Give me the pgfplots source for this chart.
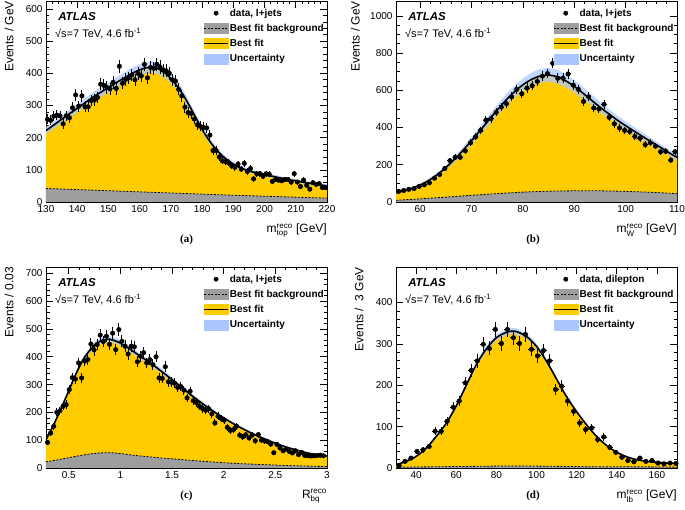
\documentclass[border=0pt]{standalone}
\usepackage{pgfplots}
\pgfplotsset{compat=1.18}
\usepackage{pgfplotstable}
\usepackage{amsmath}
\usepackage{fontspec}
\setmainfont{Liberation Sans}
\newfontfamily\serifb{Liberation Serif}

\definecolor{sigyellow}{RGB}{255,204,0}
\definecolor{bkggray}{RGB}{158,158,158}
\definecolor{bandblue}{RGB}{170,200,255}

% ---------------- panel (a) ----------------
\pgfplotstableread{
x y
130.5 257
131.5 254
132.5 267
133.5 270
134.5 268
135.5 243
136.5 268
137.5 262
138.5 293
139.5 333
140.5 298
141.5 330
142.5 296
143.5 296
144.5 315
145.5 317
146.5 325
147.5 366
148.5 363
149.5 356
150.5 352
151.5 372
152.5 353
153.5 422
154.5 369
155.5 381
156.5 386
157.5 395
158.5 380
159.5 400
160.5 392
161.5 428
162.5 386
163.5 418
164.5 416
165.5 428
166.5 420
167.5 410
168.5 408
169.5 400
170.5 380
171.5 376
172.5 350
173.5 330
174.5 295
175.5 278
176.5 275
177.5 258
178.5 240
179.5 235
180.5 232
181.5 230
182.5 208
183.5 160
184.5 160
185.5 140
186.5 128
187.5 125
188.5 122
189.5 112
190.5 108
191.5 118
192.5 102
193.5 120
194.5 95
195.5 104
196.5 72
197.5 88
198.5 88
199.5 80
200.5 88
201.5 86
202.5 64
203.5 70
204.5 68
205.5 66
206.5 70
207.5 70
208.5 62
209.5 88
210.5 62
211.5 48
212.5 68
213.5 52
214.5 40
215.5 60
216.5 55
217.5 57
218.5 45
219.5 45
}\da
\pgfplotstableread{
x f e
130 222 11
132 236 11
134 250 12
136 264 12
138 278 13
140 291 13
142 305 14
144 319 14
146 332 15
148 344 15
150 356 15
152 368 16
154 380 16
156 391 17
158 402 17
160 411 17
162 417 18
164 419 18
166 414 17
168 402 17
170 384 16
172 360 16
174 332 15
176 298 13
178 262 12
180 226 11
182 195 10
184 169 9
186 148 8
188 131 8
190 118 7
192 108 7
194 100 6
196 94 6
198 89 6
200 85 6
202 81 6
204 77 6
206 73 5
208 69 5
210 66 5
212 62 5
214 59 5
216 56 5
218 53 5
220 50 5
}\fa
\pgfplotstableread{
x b
130 42
140 38.5
150 35
160 31.5
170 28
180 24.5
190 21
200 18
210 15
220 12
}\ba

% ---------------- panel (b) ----------------
\pgfplotstableread{
x y
55.8 57
56.8 62
57.8 68
58.8 72
59.8 84
60.8 92
61.8 103
62.8 128
63.8 148
64.8 180
65.8 222
66.8 240
67.8 240
68.8 275
69.8 318
70.8 350
71.8 385
72.8 440
73.8 448
74.8 482
75.8 510
76.8 528
77.8 565
78.8 605
79.8 582
80.8 612
81.8 625
82.8 648
83.8 676
84.8 690
85.8 745
86.8 665
87.8 665
88.8 688
89.8 628
90.8 605
91.8 540
92.8 565
93.8 505
94.8 500
95.8 525
96.8 455
97.8 420
98.8 398
99.8 385
100.8 378
101.8 352
102.8 342
103.8 308
104.8 318
105.8 300
106.8 270
107.8 272
108.8 225
109.6 270
}\db
\pgfplotstableread{
x f e
55.3 50 6
57 62 6
59 80 7
61 105 8
63 140 10
65 185 12
67 238 15
69 298 18
71 362 21
73 428 24
75 494 28
77 556 31
79 608 33
81 648 35
83 674 37
85 682 37
87 670 37
89 640 35
91 600 33
93 555 31
95 510 29
97 468 26
99 428 24
101 392 23
103 357 21
105 323 19
107 290 17
109 255 16
110 240 15
}\fb
\pgfplotstableread{
x b
55.3 9
60 17
65 26
70 36
75 45
80 53
85 58
90 60
95 60
100 57
105 52
110 45
}\bb

% ---------------- panel (c) ----------------
\pgfplotstableread{
x y
0.295 92
0.325 126
0.355 150
0.385 200
0.415 206
0.445 222
0.475 228
0.505 282
0.535 325
0.565 320
0.595 378
0.625 324
0.655 385
0.685 390
0.715 446
0.745 425
0.775 444
0.805 478
0.835 455
0.865 474
0.895 445
0.925 485
0.955 426
0.985 498
1.015 456
1.045 438
1.075 410
1.105 438
1.135 436
1.165 382
1.195 402
1.225 415
1.255 378
1.285 390
1.315 372
1.345 400
1.375 324
1.405 322
1.435 364
1.465 310
1.495 308
1.525 305
1.555 290
1.585 293
1.615 280
1.645 252
1.675 276
1.705 242
1.735 236
1.765 222
1.795 214
1.825 208
1.855 213
1.885 195
1.915 162
1.945 186
1.975 178
2.005 172
2.035 146
2.065 135
2.095 138
2.125 150
2.155 118
2.185 112
2.215 120
2.245 108
2.275 118
2.305 98
2.335 120
2.365 100
2.395 98
2.425 95
2.455 86
2.485 55
2.515 85
2.545 72
2.575 62
2.605 68
2.635 60
2.665 54
2.695 62
2.725 48
2.755 56
2.785 45
2.815 44
2.845 43
2.875 44
2.905 45
2.935 46
2.965 44
}\dc
\pgfplotstableread{
x f e
0.28 102 4
0.32 130 5
0.36 160 5
0.40 193 6
0.44 226 7
0.48 260 7
0.52 295 8
0.56 330 9
0.60 362 9
0.64 390 10
0.68 412 10
0.72 430 11
0.76 445 11
0.80 455 11
0.84 461 11
0.88 463 11
0.92 461 11
0.96 456 11
1.00 449 11
1.05 438 11
1.10 426 11
1.15 413 10
1.20 400 10
1.30 375 10
1.40 347 9
1.50 318 8
1.60 288 8
1.70 258 7
1.80 230 7
1.90 204 6
2.00 180 6
2.10 158 5
2.20 138 5
2.30 120 5
2.40 104 4
2.50 89 4
2.60 76 4
2.70 65 3
2.80 55 3
2.90 48 3
3.00 43 3
}\fc
\pgfplotstableread{
x b
0.28 22
0.4 30
0.5 37
0.6 44
0.7 50
0.8 54
0.9 55
1.0 52
1.1 47
1.2 43
1.4 36
1.6 30
1.8 24
2.0 19
2.2 15
2.4 12
2.6 9
2.8 7
3.0 5
}\bc

% ---------------- panel (d) ----------------
\pgfplotstableread{
x y
31.5 6
34.5 16
37.5 24
40.5 40
43.5 44
46.5 52
49.5 89
52.5 89
55.5 113
58.5 147
61.5 162
64.5 206
67.5 236
70.5 259
73.5 299
76.5 289
79.5 335
82.5 301
85.5 335
88.5 315
91.5 301
94.5 323
97.5 287
100.5 271
103.5 284
106.5 259
109.5 190
112.5 198
115.5 162
118.5 137
121.5 109
124.5 93
127.5 97
130.5 69
133.5 75
136.5 50
139.5 38
142.5 26
145.5 18
148.5 15
151.5 24
154.5 16
157.5 18
160.5 12
163.5 10
166.5 12
169.5 11
}\dd
\pgfplotstableread{
x f e
30 8 1
35 16 1
40 28 2
45 48 2
50 76 3
55 108 3
60 150 4
65 200 5
70 250 6
75 288 7
80 315 7
85 328 8
88 331 8
90 330 8
95 318 7
100 294 7
105 258 6
110 215 5
115 172 4
120 136 4
125 104 3
130 76 3
135 54 2
140 38 2
145 27 2
150 20 1
155 16 1
160 14 1
165 12 1
170 11 1
}\fd
\pgfplotstableread{
x b
30 2
50 3
70 4
90 5
110 4
130 3
150 3
170 2
}\bd

\pgfplotsset{
  atlas/.style={
    scale only axis,
    axis line style={line width=0.7pt},
    tick style={line width=0.6pt, black},
    major tick length=7pt, minor tick length=3.5pt,
    tick align=inside,
    /pgf/number format/assume math mode=true,
    /pgf/number format/1000 sep={},
    scaled ticks=false,
    tick label style={font=\fontsize{10}{12}\selectfont},
    every axis y label/.style={at={(rel axis cs:-0.115,1)}, anchor=south east, rotate=90, inner sep=0pt, font=\fontsize{12}{14}\selectfont},
    every axis x label/.style={at={(rel axis cs:1,0)}, anchor=base east, yshift=-31pt, inner sep=0pt, font=\fontsize{12}{14}\selectfont},
    legend cell align=left,
    legend style={draw=none, fill=none, font=\fontsize{10}{12}\selectfont\bfseries, row sep=4.5pt, inner sep=0pt, nodes={inner sep=1pt}, anchor=north west},
  },
  dataerr/.style={only marks, mark=*, mark size=2.3pt, black,
    error bars/y dir=both, error bars/y explicit, error bars/x dir=both, error bars/x fixed=#1,
    error bars/error bar style={line width=0.9pt, black}, error bars/error mark=none},
  fitline/.style={black, line width=1.6pt, smooth},
  legdata/.style={legend image code/.code={\fill[black] (12pt,0pt) circle (2.2pt);}},
  legbkg/.style={legend image code/.code={\fill[bkggray] (0pt,-5pt) rectangle (24pt,5pt); \draw[black, line width=0.8pt, dash pattern=on 2pt off 1.5pt] (0pt,0pt)--(24pt,0pt);}},
  legfit/.style={legend image code/.code={\fill[sigyellow] (0pt,-5pt) rectangle (24pt,5pt); \draw[black, line width=1.6pt] (0pt,0pt)--(24pt,0pt);}},
  legunc/.style={legend image code/.code={\fill[bandblue] (0pt,-5pt) rectangle (24pt,5pt);}},
}

\newcommand{\atlaslabels}{%
  \node[anchor=west, inner sep=0pt, font=\fontsize{11.5}{13}\selectfont\bfseries\itshape] at (rel axis cs:0.043,0.925) {ATLAS};
  \node[anchor=west, inner sep=0pt, font=\fontsize{11}{13}\selectfont] at (rel axis cs:0.032,0.836) {√s=7 TeV, 4.6 fb\textsuperscript{-1}};
}

\newcommand{\panelplots}[4]{%
  \addplot[fill=sigyellow, draw=none, smooth, forget plot] table[x=x,y=f] {#1} \closedcycle;
  \addplot[fill=bkggray, draw=none, smooth, forget plot] table[x=x,y=b] {#2} \closedcycle;
  \addplot[draw=none, smooth, stack plots=y, forget plot] table[x=x, y expr=\thisrow{f}-\thisrow{e}] {#1};
  \addplot[fill=bandblue, fill opacity=0.75, draw=none, smooth, stack plots=y, forget plot] table[x=x, y expr=2*\thisrow{e}] {#1} \closedcycle;
  \addplot[black, line width=0.8pt, dash pattern=on 2pt off 1.5pt, smooth, forget plot] table[x=x,y=b] {#2};
  \addplot[fitline, forget plot] table[x=x,y=f] {#1};
  \addplot[forget plot, dataerr=#4] table[x=x, y=y, y error expr={sqrt(\thisrow{y})}] {#3};
}

\newcommand{\legendentries}[1]{%
  \addlegendimage{legdata}\addlegendentry{#1}
  \addlegendimage{legbkg}\addlegendentry{Best fit background}
  \addlegendimage{legfit}\addlegendentry{Best fit}
  \addlegendimage{legunc}\addlegendentry{Uncertainty}
}

\begin{document}
\begin{tikzpicture}
\useasboundingbox (0pt,0pt) rectangle (685pt,510pt);

% (a)
\begin{axis}[atlas, at={(46pt,308pt)}, anchor=south west, width=281pt, height=201pt,
  xmin=130, xmax=220, ymin=0, ymax=625,
  xtick={130,140,...,220}, ytick={0,100,...,600},
  minor x tick num=4, minor y tick num=4,
  xlabel={$\text{m}^{\text{reco}}_{\text{top}}$ [GeV]}, ylabel={Events / GeV},
  legend style={at={(rel axis cs:0.559,0.967)}}]
  \legendentries{data, l+jets}
  \panelplots{\fa}{\ba}{\da}{0.5}
  \atlaslabels
\end{axis}

% (b)
\begin{axis}[atlas, at={(396pt,308pt)}, anchor=south west, width=281pt, height=201pt,
  xmin=55.3, xmax=110, ymin=0, ymax=1080,
  xtick={60,70,...,110}, ytick={0,200,...,1000},
  minor x tick num=4, minor y tick num=3,
  xlabel={$\text{m}^{\text{reco}}_{\text{W}}$ [GeV]}, ylabel={Events / GeV},
  ylabel style={at={(rel axis cs:-0.128,1)}},
  legend style={at={(rel axis cs:0.558,0.967)}}]
  \legendentries{data, l+jets}
  \panelplots{\fb}{\bb}{\db}{0.5}
  \atlaslabels
\end{axis}

% (c)
\begin{axis}[atlas, at={(46pt,42pt)}, anchor=south west, width=281pt, height=201pt,
  xmin=0.28, xmax=3, ymin=0, ymax=723,
  xtick={0.5,1,1.5,2,2.5,3}, xticklabels={0.5,1,1.5,2,2.5,3}, ytick={0,100,...,700},
  minor x tick num=4, minor y tick num=4,
  xlabel={$\text{R}^{\text{reco}}_{\text{bq}}$}, ylabel={Events / 0.03},
  legend style={at={(rel axis cs:0.559,0.967)}}]
  \legendentries{data, l+jets}
  \panelplots{\fc}{\bc}{\dc}{0.015}
  \atlaslabels
\end{axis}

% (d)
\begin{axis}[atlas, at={(396pt,42pt)}, anchor=south west, width=281pt, height=201pt,
  xmin=30, xmax=170, ymin=0, ymax=486,
  xtick={40,60,...,160}, ytick={0,100,...,400},
  minor x tick num=3, minor y tick num=4,
  xlabel={$\text{m}^{\text{reco}}_{\text{lb}}$ [GeV]}, ylabel={Events /\ \ 3 GeV},
  legend style={at={(rel axis cs:0.558,0.967)}}]
  \legendentries{data, dilepton}
  \panelplots{\fd}{\bd}{\dd}{1.5}
  \atlaslabels
\end{axis}

\node[font=\serifb\bfseries\fontsize{11}{13}\selectfont] at (186.5pt,270pt) {(a)};
\node[font=\serifb\bfseries\fontsize{11}{13}\selectfont] at (533pt,270pt) {(b)};
\node[font=\serifb\bfseries\fontsize{11}{13}\selectfont] at (186.5pt,14pt) {(c)};
\node[font=\serifb\bfseries\fontsize{11}{13}\selectfont] at (533pt,14pt) {(d)};
\end{tikzpicture}
\end{document}
